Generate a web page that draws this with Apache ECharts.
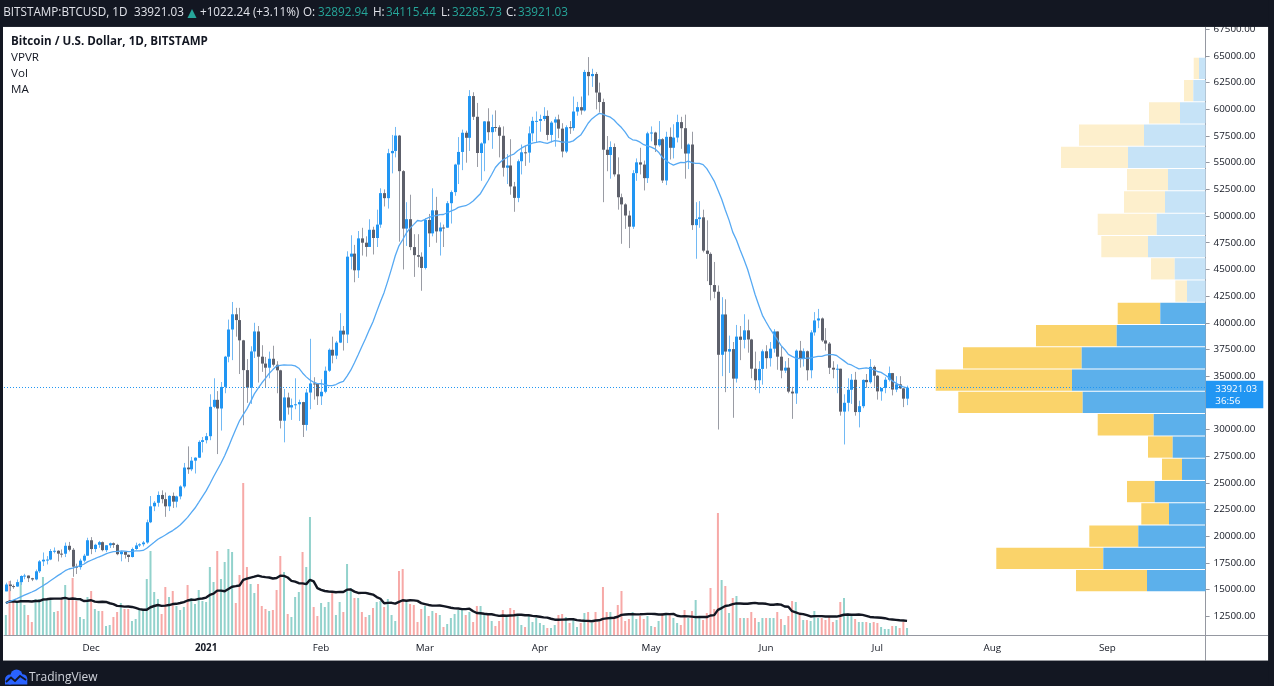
<!DOCTYPE html>
<html><head><meta charset="utf-8">
<script src="https://cdn.jsdelivr.net/npm/echarts@6/dist/echarts.min.js"></script>
<style>html,body{margin:0;padding:0;background:#131722;}#c{width:1274px;height:686px;}</style>
</head><body><div id="c"></div>
<script>
// ---------------- DATA ----------------
const startDate = [2020, 10, 8];   // 2020-11-08 (first visible daily bar)
const dayCount = 324;              // days shown on the time scale (to 2021-09-27)
const monthLabels = {
  '2020-12-01': 'Dec', '2021-01-01': '2021', '2021-02-01': 'Feb', '2021-03-01': 'Mar',
  '2021-04-01': 'Apr', '2021-05-01': 'May', '2021-06-01': 'Jun', '2021-07-01': 'Jul',
  '2021-08-01': 'Aug', '2021-09-01': 'Sep'
};
const priceTicks = [12500, 15000, 17500, 20000, 22500, 25000, 27500, 30000, 32500, 35000, 37500, 40000,
  42500, 45000, 47500, 50000, 52500, 55000, 57500, 60000, 62500, 65000, 67500];

const opens = [
14833,15479,15332,15290,15701,16276,16317,16068,15955,16716,17645,17804,17817,18621,18642,18370,18364,19107,18732,17150,17108,17717,18177,
19625,18802,19201,19445,18699,19154,19345,19191,18321,18553,18264,18058,18803,19142,19246,19417,21310,22805,23137,23869,23477,22803,23783,23241,23735,24664,26437,26272,27084,27362,28840,
29001,29374,32127,32782,31971,33992,36824,39371,40797,40254,38356,35566,33922,37316,39187,36825,36178,35792,36630,36069,35547,30825,33005,32067,32289,32366,32569,30432,33466,34316,34269,
33114,33537,35510,37472,36926,38144,39266,38903,46196,46481,44918,47909,47504,47105,48717,47945,49199,52149,51679,55888,56099,57539,54207,48824,49705,47093,46339,46188,
45137,49631,48378,50538,48562,48927,48912,51206,52246,54824,56008,57805,57332,61243,59302,55907,56804,58870,57858,58346,58313,57523,54529,54738,52774,51704,55137,55974,55947,57750,58917,
58918,59095,59384,57603,58758,59057,58192,56048,58323,58245,59793,60204,59893,63503,63109,63314,61572,60683,56216,55724,56473,53906,51762,51093,50050,49004,54021,55033,54824,53555,
57750,57828,56631,57200,53333,57424,56396,57356,58803,58232,55859,56704,49150,49716,49880,46760,46456,43537,42909,37002,40782,37304,37536,34770,38705,38402,39294,38436,35697,34616,35678,
37332,36684,37575,39188,36825,35520,35796,33552,33380,37388,36702,37334,35552,39097,40219,40406,38347,38053,35787,35615,35698,31676,32505,33723,34662,31637,32186,34649,34434,35867,
35040,33572,33897,34668,35287,33746,34235,33855,32892.94];

const highs = [
15650,15840,15480,15950,16340,16480,16330,16110,16880,17770,18480,18140,18800,18950,18690,18760,19410,19470,18900,17430,17900,18350,19860,
19920,19300,19560,19510,19180,19410,19420,19290,18640,18560,18290,18940,19400,19350,19560,21560,23770,23290,24200,24300,24100,23840,24100,23800,24770,26870,28420,27430,27400,28990,29300,
29680,33300,34800,33600,34450,36900,40300,41950,41400,41400,38400,36600,37800,40000,39700,37900,36800,37300,37850,36400,35600,33800,33450,32900,34800,32800,32600,33800,38500,34900,34350,
34700,35900,37600,38700,38300,40900,39700,46700,48200,47300,48600,48900,48100,49700,49000,50600,52600,52500,56300,57600,58350,57600,54300,51300,52000,48300,48300,46600,
49800,50200,52600,51800,49400,49200,51400,52400,54900,57400,58100,58000,61800,61600,60600,56900,58900,60100,59500,59900,58500,58400,55800,57200,53200,55300,56700,56600,58400,59300,59800,
59500,60200,59900,58900,59300,59500,58700,58500,58900,61200,60700,61200,63700,64895,63800,63500,62500,61000,57500,57000,56800,55500,52100,51200,50500,54300,55400,56400,55200,57900,
58400,57900,58900,57300,57900,58300,58600,59500,59300,59500,56800,57900,51300,51400,50600,49600,46600,45700,43500,42400,42200,38800,38200,39800,39700,40800,40300,38500,37300,36400,37500,
37900,38200,39400,39200,37800,36400,36700,34000,37500,38300,37600,37400,39300,41000,41300,40500,39500,38200,36400,36100,35700,33300,34800,35200,35400,32700,34700,35200,36600,36000,
35100,33900,34900,35900,35300,35000,35000,33900,34115.44];

const lows = [
14842,14860,15080,15270,15440,15970,15710,15800,15870,16560,17210,17360,17760,18400,17640,18010,18050,18580,16200,16460,16870,17550,18180,
18320,18510,18920,18590,18510,18900,18910,18220,17650,17910,17580,18010,18730,19000,19050,19300,21230,22350,22770,23080,21820,22360,22650,22700,23460,24500,25850,26100,25880,27330,27850,
28700,29000,32000,27700,29900,33400,36300,36500,38700,35200,30400,32500,32400,36700,34400,35400,33900,34800,35900,33400,30100,28800,31400,30900,31900,30800,29300,29900,31900,32800,32300,
32300,33400,35400,36200,36600,38100,37400,38100,45000,43800,44200,46300,46200,47100,46400,47100,48900,50900,50700,54000,55500,47600,45000,47200,46800,44300,45200,43000,
45000,47100,48100,47500,46300,47100,48900,49300,51900,53000,54300,55000,56100,59000,54600,53300,54200,57100,56300,57900,55500,53700,53000,52000,50400,51300,53900,54700,55000,57000,56900,
57900,58900,57100,56900,56500,57300,55500,55900,57700,58000,59400,59500,59800,61300,62100,60000,59700,51300,54200,53500,53700,50600,47400,48800,47000,48800,53300,53900,52400,53100,
57000,56000,56500,53100,52900,55300,55400,56900,56300,53500,54400,48700,46000,48900,46600,43900,42100,42300,30000,35000,33500,35300,31100,34400,36500,37600,37200,34800,33700,33400,34200,
35700,35900,37200,35600,34800,35300,33400,31000,32400,35800,35900,34600,34800,38800,39500,38200,37400,35200,34800,33400,31300,28600,31700,32400,31300,30200,32000,33900,34300,34000,
32800,32700,33400,34500,33200,33500,33800,32100,32285.73];

const closes = [
15479,15332,15290,15701,16276,16317,16068,15955,16716,17645,17804,17817,18621,18642,18370,18364,19107,18732,17150,17108,17717,18177,19625,
18802,19201,19445,18699,19154,19345,19191,18321,18553,18264,18058,18803,19142,19246,19417,21310,22805,23137,23869,23477,22803,23783,23241,23735,24664,26437,26272,27084,27362,28840,29001,
29374,32127,32782,31971,33992,36824,39371,40797,40254,38356,35566,33922,37316,39187,36825,36178,35792,36630,36069,35547,30825,33005,32067,32289,32366,32569,30432,33466,34316,34269,33114,
33537,35510,37472,36926,38144,39266,38903,46196,46481,44918,47909,47504,47105,48717,47945,49199,52149,51679,55888,56099,57539,54207,48824,49705,47093,46339,46188,45137,
49631,48378,50538,48562,48927,48912,51206,52246,54824,56008,57805,57332,61243,59302,55907,56804,58870,57858,58346,58313,57523,54529,54738,52774,51704,55137,55974,55947,57750,58917,58918,
59095,59384,57603,58758,59057,58192,56048,58323,58245,59793,60204,59893,63503,63109,63314,61572,60683,56216,55724,56473,53906,51762,51093,50050,49004,54021,55033,54824,53555,57750,
57828,56631,57200,53333,57424,56396,57356,58803,58232,55859,56704,49150,49716,49880,46760,46456,43537,42909,37002,40782,37304,37536,34770,38705,38402,39294,38436,35697,34616,35678,37332,
36684,37575,39188,36825,35520,35796,33552,33380,37388,36702,37334,35552,39097,40219,40406,38347,38053,35787,35615,35698,31676,32505,33723,34662,31637,32186,34649,34434,35867,35040,
33572,33897,34668,35287,33746,34235,33855,32892.94,33921.03];

// daily volume (relative units)
const volumes = [
20,54,33,33,54,30,20,13,36,36,58,36,36,23,24,36,50,36,57,34,18,16,38,44,26,24,24,9,10,18,23,32,26,26,14,16,27,24,56,84,43,36,21,48,38,44,29,25,28,50,37,31,45,
34,33,68,53,84,56,73,86,83,32,60,152,68,51,42,51,29,26,24,25,45,79,63,21,18,38,43,83,68,118,28,19,32,28,33,44,20,33,23,71,47,37,37,23,18,20,27,33,34,28,36,20,14,64,66,33,31,30,13,
26,29,19,24,22,20,8,11,17,21,25,25,20,23,13,29,29,20,20,14,9,14,25,20,27,25,19,10,8,19,13,17,12,10,7,7,10,20,21,18,12,15,8,12,22,23,12,23,13,48,23,23,18,30,44,14,16,
23,16,19,16,19,9,8,14,22,21,21,17,12,10,25,17,24,35,17,15,22,47,26,122,55,49,22,37,39,17,17,17,23,17,13,17,17,17,17,23,16,10,19,34,33,20,15,15,14,24,17,17,15,18,13,15,33,37,22,19,16,13,13,13,12,13,12,8,6,6,9,9,7,13,7];

// the 19 sessions before the first visible bar (needed by the 20-period averages)
const priorCloses = [11916,12823,12965,12931,13108,13031,13075,13654,13272,13437,13547,13781,13737,13550,14029,14133,15579,15565,14833];
const priorVolumes = [24,28,46,40,30,22,18,26,36,28,30,26,20,24,34,38,55,50,45];
const maPeriod = 20;

// Volume profile (visible range), 24 rows from bottom to top
const vpLow = 14842, vpStep = 2087;
const vpUp   = [58.6,102.3,67.3,36.6,50.9,23.6,32.9,51.9,122.9,133.6,123.9,88.9,45.3,18.6,30.9,57.6,48.9,40.6,37.6,77.6,61.6,25.6,12.3,6.6];
const vpDown = [71,107,49,27.7,27.7,20,24.7,56,124.4,136.3,118.7,80.7,42.6,11.7,23.7,46.7,59,41,41,67,65,31,9.3,5.3];
const valueAreaRows = 13;

const lastPrice = 33921.03, barCountdown = '36:56';

// ---------------- BUILD ----------------
const categories = [];
(function () {
  const t0 = Date.UTC(startDate[0], startDate[1], startDate[2]);
  for (let i = 0; i < dayCount; i++) categories.push(new Date(t0 + i * 86400000).toISOString().slice(0, 10));
})();

function sma(prior, vals, n) {
  const all = prior.concat(vals), out = [];
  for (let i = 0; i < vals.length; i++) {
    let s = 0;
    for (let k = i + prior.length - n + 1; k <= i + prior.length; k++) s += all[k];
    out.push(+(s / n).toFixed(2));
  }
  return out;
}
const priceMA = sma(priorCloses, closes, maPeriod);
const volMA = sma(priorVolumes, volumes, maPeriod);

const candleData = closes.map((c, i) => [i, opens[i], c, lows[i], highs[i]]);
const volData = volumes.map((v, i) => ({ value: v, itemStyle: { color: closes[i] >= opens[i] ? '#92d2cc' : '#f7a9a7' } }));
const vpData = vpUp.map((u, i) => [vpLow + i * vpStep, vpLow + (i + 1) * vpStep, u, vpDown[i], i < valueAreaRows ? 1 : 0]);

const FONT = '"Open Sans", "Noto Sans", sans-serif';
const AX = '#9598a1';
const isMonth = (idx, v) => monthLabels[v] !== undefined;

function renderCandle(params, api) {
  const i = api.value(0), o = api.value(1), c = api.value(2), l = api.value(3), h = api.value(4);
  const up = c >= o;
  const po = api.coord([i, o]), pc = api.coord([i, c]), pl = api.coord([i, l]), ph = api.coord([i, h]);
  const cx = Math.round(po[0]);
  const top = Math.min(po[1], pc[1]), bot = Math.max(po[1], pc[1]);
  return { type: 'group', children: [
    { type: 'line', shape: { x1: cx + 0.5, y1: ph[1], x2: cx + 0.5, y2: pl[1] },
      style: { stroke: up ? '#72b9f4' : '#9a9ca4', lineWidth: 1 } },
    { type: 'rect', shape: { x: cx - 1, y: top, width: 3, height: Math.max(bot - top, 1) },
      style: { fill: up ? '#2196f3' : '#5d606b' } }
  ] };
}
function renderVP(params, api) {
  const lo = api.value(0), hi = api.value(1), up = api.value(2), dn = api.value(3), va = api.value(4);
  const pR = api.coord([0, lo]), pU = api.coord([up, hi]), pT = api.coord([up + dn, hi]);
  const yTop = pU[1] + 1, h = pR[1] - yTop;
  return { type: 'group', children: [
    { type: 'rect', shape: { x: pT[0], y: yTop, width: pU[0] - pT[0], height: h }, style: { fill: va ? '#fad36a' : '#fdefcc' } },
    { type: 'rect', shape: { x: pU[0], y: yTop, width: pR[0] - pU[0], height: h }, style: { fill: va ? '#5cb0eb' : '#c6e3f7' } }
  ] };
}

const chart = echarts.init(document.getElementById('c'), null, { renderer: 'canvas' });
chart.setOption({
  backgroundColor: '#131722',
  animation: false,
  grid: { left: 4, right: 68.4, top: 27, bottom: 51, containLabel: false },
  xAxis: [
    { type: 'category', data: categories, boundaryGap: true,
      axisLine: { lineStyle: { color: AX, width: 1 } },
      axisTick: { alignWithLabel: true, interval: isMonth, length: 4, lineStyle: { color: AX } },
      axisLabel: { interval: isMonth, margin: 8, color: '#131722', fontSize: 9.8, fontFamily: FONT,
        formatter: v => monthLabels[v] === '2021' ? '{b|2021}' : (monthLabels[v] || ''),
        rich: { b: { fontWeight: 'bold', fontSize: 9.8, fontFamily: FONT, color: '#131722' } } },
      splitLine: { show: false } },
    { type: 'value', gridIndex: 0, min: 0, max: 1201.6, inverse: true, show: false }
  ],
  yAxis: [
    { type: 'value', position: 'right', min: 10748, max: 67714,
      axisLine: { show: true, lineStyle: { color: AX, width: 1 } },
      axisTick: { show: true, customValues: priceTicks, length: 4, lineStyle: { color: AX } },
      axisLabel: { customValues: priceTicks, margin: 8, color: '#131722', fontSize: 9.8, fontFamily: FONT,
        formatter: v => Number(v).toFixed(2) },
      splitLine: { show: false } },
    { type: 'value', min: 0, max: 608, show: false }
  ],
  series: [
    { type: 'custom', name: 'VPVR', xAxisIndex: 1, yAxisIndex: 0, renderItem: renderVP, data: vpData,
      encode: { x: [2, 3], y: [0, 1] }, z: 1, silent: true },
    { type: 'bar', name: 'Vol', xAxisIndex: 0, yAxisIndex: 1, data: volData, barWidth: 2, z: 1, silent: true },
    { type: 'line', name: 'Vol MA', xAxisIndex: 0, yAxisIndex: 1, data: volMA, showSymbol: false, symbol: 'none',
      lineStyle: { color: '#131722', width: 2.4 }, z: 2, silent: true },
    { type: 'custom', name: 'BTCUSD', xAxisIndex: 0, yAxisIndex: 0, renderItem: renderCandle, data: candleData,
      encode: { x: 0, y: [1, 2, 3, 4] }, z: 3, silent: true,
      markLine: { silent: true, symbol: ['none', 'none'], label: { show: false },
        lineStyle: { type: [1, 2], color: '#2196f3', width: 1 }, data: [{ yAxis: lastPrice }] } },
    { type: 'line', name: 'MA', xAxisIndex: 0, yAxisIndex: 0, data: priceMA, showSymbol: false, symbol: 'none',
      lineStyle: { color: '#56a9f3', width: 1.3 }, z: 5, silent: true }
  ]
});

// ---------------- FRAME & TEXT ----------------
const py = chart.convertToPixel({ yAxisIndex: 0 }, lastPrice);
const T = (x, y, text, st) => ({ type: 'text', x: x, y: y, z: 103,
  style: Object.assign({ text: text, fill: '#e1e3ea', fontSize: 11.7, fontFamily: FONT, verticalAlign: 'middle', align: 'left' }, st || {}) });
const TEAL = '#26a69a';
const LOGO = '#2962ff';
const fmt = v => v.toFixed(2);
chart.setOption({ graphic: [
  { type: 'rect', z: -10, shape: { x: 3, y: 26.7, width: 1265.3, height: 634 }, style: { fill: '#ffffff' } },
  { type: 'rect', z: 100, shape: { x: 0, y: 0, width: 1274, height: 26.7 }, style: { fill: '#131722' } },
  { type: 'rect', z: 100, shape: { x: 0, y: 660.7, width: 1274, height: 25.3 }, style: { fill: '#131722' } },
  { type: 'rect', z: 100, shape: { x: 1268.3, y: 0, width: 6, height: 686 }, style: { fill: '#131722' } },
  { type: 'rect', z: 100, shape: { x: 0, y: 0, width: 3, height: 686 }, style: { fill: '#131722' } },
  { type: 'line', z: 60, shape: { x1: 1205.6, y1: 635.5, x2: 1268.3, y2: 635.5 }, style: { stroke: AX, lineWidth: 1 } },
  { type: 'line', z: 60, shape: { x1: 1205.5, y1: 635, x2: 1205.5, y2: 660.7 }, style: { stroke: AX, lineWidth: 1 } },
  // header
  T(3.3, 13, 'BITSTAMP:BTCUSD, 1D'),
  T(134, 13, fmt(lastPrice)),
  { type: 'polygon', z: 103, shape: { points: [[187.5, 18], [196.5, 18], [192, 9]] }, style: { fill: TEAL } },
  T(200, 13, '+1022.24 (+3.11%)'),
  T(303, 13, 'O:'), T(318, 13, '32892.94', { fill: TEAL }),
  T(373, 13, 'H:'), T(386, 13, '34115.44', { fill: TEAL }),
  T(441, 13, 'L:'), T(452, 13, '32285.73', { fill: TEAL }),
  T(506, 13, 'C:'), T(518, 13, fmt(lastPrice), { fill: TEAL }),
  // legend
  T(11, 42, 'Bitcoin / U.S. Dollar, 1D, BITSTAMP', { fill: '#131722', fontWeight: 'bold', fontSize: 11.6 }),
  T(11, 58, 'VPVR', { fill: '#131722', fontSize: 11.6 }),
  T(11, 74, 'Vol', { fill: '#131722', fontSize: 11.6 }),
  T(11, 90, 'MA', { fill: '#131722', fontSize: 11.6 }),
  // last price label
  { type: 'rect', z: 102, shape: { x: 1206, y: py - 7, width: 57.3, height: 27.6 }, style: { fill: '#2196f3' } },
  T(1215.3, py + 1.5, fmt(lastPrice), { fill: '#ffffff', fontSize: 9.8 }),
  T(1215.3, py + 14, barCountdown, { fill: '#ffffff', fontSize: 9.8 }),
  // footer logo (cloud with chart line)
  { type: 'circle', z: 101, shape: { cx: 10, cy: 679.5, r: 5 }, style: { fill: LOGO } },
  { type: 'circle', z: 101, shape: { cx: 16.5, cy: 675.5, r: 6 }, style: { fill: LOGO } },
  { type: 'circle', z: 101, shape: { cx: 22.5, cy: 679, r: 4.8 }, style: { fill: LOGO } },
  { type: 'rect', z: 101, shape: { x: 5, y: 679, width: 22.3, height: 5.5 }, style: { fill: LOGO } },
  { type: 'polyline', z: 102, shape: { points: [[6, 682], [11, 677.5], [15, 681], [20, 676], [26, 680]] },
    style: { stroke: '#131722', lineWidth: 1.8, fill: null } },
  T(29, 678, 'TradingView', { fill: '#d1d4dc', fontSize: 12 })
] });
</script>
</body></html>
